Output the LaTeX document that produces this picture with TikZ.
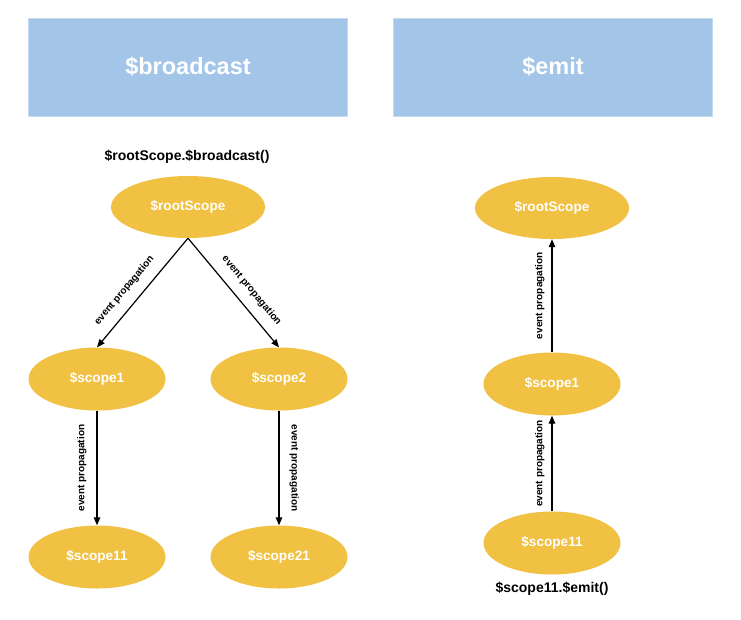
\documentclass[tikz,border=0pt]{standalone}
\usepackage{fontspec}
\setmainfont{Liberation Sans}
\usetikzlibrary{shapes.geometric,arrows.meta}
\definecolor{hdrblue}{HTML}{A3C6E8}
\definecolor{hdredge}{HTML}{C4DBF1}
\definecolor{gold}{HTML}{F0C142}
\tikzset{
  header/.style={draw=hdredge, line width=0.8pt, fill=hdrblue, minimum width=319pt, minimum height=98pt, inner sep=0pt, text=white, font=\bfseries\fontsize{23.5}{26}\selectfont},
  rootell/.style={ellipse, fill=gold, minimum width=154pt, minimum height=62pt, inner sep=0pt, text=white, font=\bfseries\fontsize{13.6}{15}\selectfont},
  scopeell/.style={ellipse, fill=gold, minimum width=137pt, minimum height=63pt, inner sep=0pt, text=white, font=\bfseries\fontsize{13.6}{15}\selectfont},
  caption/.style={font=\bfseries\fontsize{14}{16}\selectfont, text=black, inner sep=0pt},
  conn/.style={line width=1.2pt, -{Triangle[length=8pt,width=6.5pt]}},
  lbl/.style={font=\bfseries\fontsize{10}{11}\selectfont, inner sep=0pt, inner ysep=10pt},
}
\begin{document}
\begin{tikzpicture}[x=1pt,y=-1pt]
\useasboundingbox[fill=white] (0,0) rectangle (741,619);
% headers
\node[header] (hb) at (188,67) {\$broadcast};
\node[header] (he) at (553,67) {\$emit};
% left tree
\node[caption] (cb) at (187,157) {\$rootScope.\$broadcast()};
\node[rootell] (lroot) at (188,207) {\$rootScope};
\node[scopeell] (ls1) at (97,379) {\$scope1};
\node[scopeell] (ls2) at (279,379) {\$scope2};
\node[scopeell] (ls11) at (97,557) {\$scope11};
\node[scopeell] (ls21) at (279,557) {\$scope21};
\draw[conn] (lroot.south) -- node[lbl, pos=0.57, sloped, above] {event propagation} (ls1.north);
\draw[conn] (lroot.south) -- node[lbl, pos=0.57, sloped, above] {event propagation} (ls2.north);
\draw[conn] (ls1.south) -- node[lbl, midway, rotate=90, anchor=south] {event propagation} (ls11.north);
\draw[conn] (ls2.south) -- node[lbl, midway, rotate=-90, anchor=south] {event propagation} (ls21.north);
% right chain
\node[rootell] (rroot) at (552,208) {\$rootScope};
\node[scopeell] (rs1) at (552,384) {\$scope1};
\node[scopeell] (rs11) at (552,543) {\$scope11};
\node[caption] (ce) at (552,589) {\$scope11.\$emit()};
\draw[conn] (rs1.north) -- node[lbl, midway, rotate=90, anchor=south, inner ysep=7pt] {event propagation} (rroot.south);
\draw[conn] (rs11.north) -- node[lbl, midway, rotate=90, anchor=south, inner ysep=7pt] {event propagation} (rs1.south);
\end{tikzpicture}
\end{document}
